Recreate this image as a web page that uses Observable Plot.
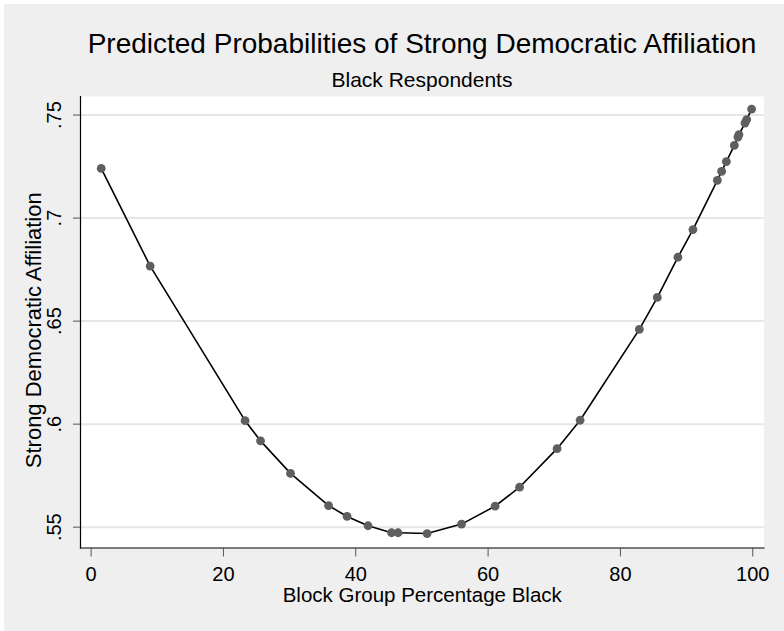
<!DOCTYPE html>
<html>
<head>
<meta charset="utf-8">
<script src="https://cdn.jsdelivr.net/npm/d3@7"></script>
<script src="https://cdn.jsdelivr.net/npm/@observablehq/plot@0.6"></script>
<style>
  html, body { margin: 0; padding: 0; background: #ffffff; overflow: hidden; }
  #wrap { position: relative; width: 784px; height: 631px; font-family: "Liberation Sans", Arial, Helvetica, sans-serif; color: #000; }
  #bg { position: absolute; left: 4px; top: 4px; right: 0; bottom: 0; background: #efefef; }
  .ttl { position: absolute; left: 80px; width: 684px; text-align: center; white-space: nowrap; }
  #title { top: 29.6px; font-size: 28px; line-height: 28px; }
  #subtitle { top: 68.9px; font-size: 21px; line-height: 21px; }
  #chart { position: absolute; left: 0; top: 92px; }
</style>
</head>
<body>
<div id="wrap">
  <div id="bg"></div>
  <div id="title" class="ttl">Predicted Probabilities of Strong Democratic Affiliation</div>
  <div id="subtitle" class="ttl">Black Respondents</div>
  <div id="chart"></div>
</div>
<script>
// Block group percentage black (x) and predicted probability (y)
const pctBlack = [1.53, 8.93, 23.27, 25.61, 30.14, 35.89, 38.69, 41.86, 45.41, 46.39,
                  50.78, 55.99, 61.06, 64.76, 70.43, 73.91, 82.86, 85.58, 88.69, 90.96,
                  94.65, 95.30, 96.01, 97.22, 97.76, 97.91, 98.82, 99.08, 99.83];
const probStrongDem = [0.7241, 0.6767, 0.6017, 0.5919, 0.5761, 0.5605, 0.5552, 0.5507, 0.5473, 0.5473,
                       0.5469, 0.5515, 0.5602, 0.5694, 0.5881, 0.6019, 0.6460, 0.6615, 0.6810, 0.6944,
                       0.7183, 0.7227, 0.7274, 0.7353, 0.7393, 0.7405, 0.7461, 0.7478, 0.7529];
const xTicks = [0, 20, 40, 60, 80, 100];
const yTicks = [0.55, 0.6, 0.65, 0.7, 0.75];
const xTitle = "Block Group Percentage Black";
const yTitle = "Strong Democratic Affiliation";

const data = pctBlack.map((x, i) => ({x, y: probStrongDem[i]}));
const fmtY = d => String(d).replace(/^0/, "");

const chart = Plot.plot({
  width: 784,
  height: 539,
  marginLeft: 80,
  marginRight: 20.5,
  marginTop: 4,
  marginBottom: 83.5,
  style: {background: "transparent", fontFamily: "Liberation Sans, Arial, Helvetica, sans-serif", color: "#000", overflow: "visible"},
  x: {domain: [-1.6, 101.7]},
  y: {domain: [0.5399, 0.759]},
  marks: [
    Plot.frame({fill: "white", stroke: null}),
    Plot.gridY(yTicks, {stroke: "#e6e6e6", strokeOpacity: 1, strokeWidth: 2}),
    Plot.frame({anchor: "bottom", stroke: "#000", strokeWidth: 1.2}),
    Plot.frame({anchor: "left", stroke: "#000", strokeWidth: 1.2}),
    Plot.axisX(xTicks, {tickSize: 9, tickPadding: 9.5, fontSize: 20, label: null, stroke: "#555", tickFormat: d => String(d)}),
    Plot.axisY(yTicks, {tickSize: 7, tickPadding: 13, tickRotate: -90, fontSize: 20, label: null, stroke: "#555", tickFormat: fmtY}),
    Plot.text([xTitle], {frameAnchor: "bottom", dy: 54, lineAnchor: "bottom", textAnchor: "middle", fontSize: 20.5, fill: "#000"}),
    Plot.text([yTitle], {frameAnchor: "left", dx: -40, dy: 8, rotate: -90, lineAnchor: "bottom", textAnchor: "middle", fontSize: 22, fill: "#000"}),
    Plot.line(data, {x: "x", y: "y", stroke: "#000", strokeWidth: 1.6}),
    Plot.dot(data, {x: "x", y: "y", r: 4.4, fill: "#5f5f5f", stroke: null})
  ]
});
document.getElementById("chart").appendChild(chart);
</script>
</body>
</html>
